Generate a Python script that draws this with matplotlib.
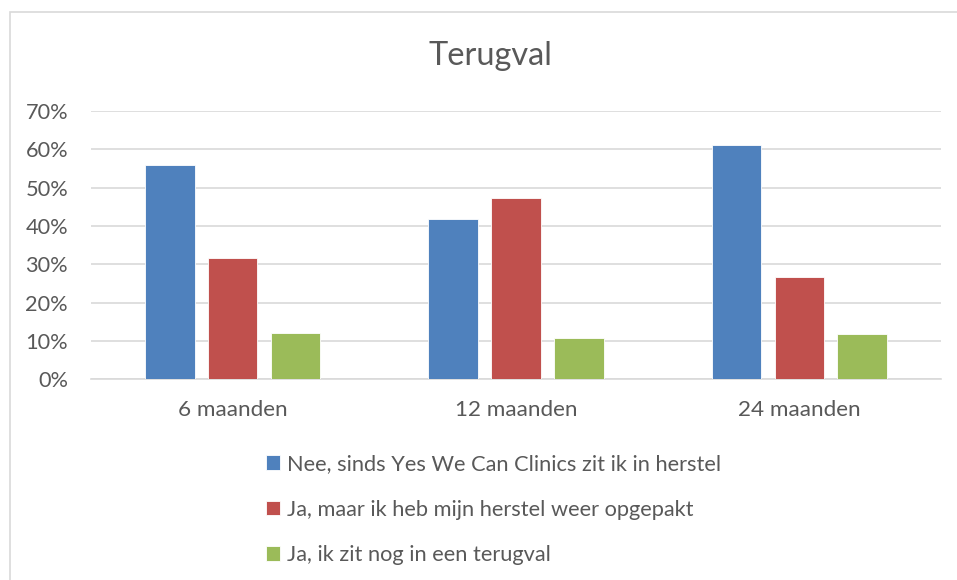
import matplotlib
matplotlib.use("Agg")
import matplotlib.pyplot as plt
from matplotlib.patches import Rectangle
import numpy as np

# data
categories = ["6 maanden", "12 maanden", "24 maanden"]
series_labels = [
    "Nee, sinds Yes We Can Clinics zit ik in herstel",
    "Ja, maar ik heb mijn herstel weer opgepakt",
    "Ja, ik zit nog in een terugval",
]
nee_herstel = [0.560, 0.417, 0.611]
ja_opgepakt = [0.316, 0.472, 0.268]
ja_terugval = [0.120, 0.109, 0.118]
colors = ["#4f81bd", "#c0504d", "#9bbb59"]
yticks = [0.0, 0.1, 0.2, 0.3, 0.4, 0.5, 0.6, 0.7]

plt.rcParams["font.family"] = ["Lato", "DejaVu Sans"]
text_color = "#595959"
grid_color = "#d9d9d9"
fs = 15.7

fig = plt.figure(figsize=(9.57, 5.8), dpi=100)
ax = fig.add_axes([91 / 957, 1 - 379.3 / 580, 850 / 957, 268.3 / 580])

x = np.arange(len(categories))
pitch = 0.222
width = 0.175
for i, (vals, lab, col) in enumerate(zip([nee_herstel, ja_opgepakt, ja_terugval], series_labels, colors)):
    ax.bar(x + (i - 1) * pitch, vals, width, color=col, label=lab,
           edgecolor="white", linewidth=0.6, zorder=3)

ax.set_xlim(-0.5, 2.5)
ax.set_ylim(0, 0.7)
ax.set_yticks(yticks)
ax.set_yticklabels([f"{int(round(t * 100))}%" for t in yticks])
ax.set_xticks(x)
ax.set_xticklabels(categories, fontsize=16.2)
ax.tick_params(axis="both", length=0, colors=text_color)
ax.tick_params(axis="y", pad=16.5, labelsize=fs)
ax.tick_params(axis="x", pad=15)
ax.grid(axis="y", color=grid_color, linewidth=1.2, zorder=0)
for side in ["top", "right", "left"]:
    ax.spines[side].set_visible(False)
ax.spines["bottom"].set_color(grid_color)
ax.spines["bottom"].set_linewidth(1.2)

# title centred on the chart area, as in the reference
fig.text(490 / 957, 1 - 56 / 580, "Terugval", fontsize=23.4, color=text_color,
         ha="center", va="center")

leg = fig.legend(loc="upper left", bbox_to_anchor=(266 / 957, 1 - 454 / 580),
                 frameon=False, fontsize=fs, labelcolor=text_color,
                 handlelength=0.65, handleheight=0.65, handletextpad=0.3,
                 labelspacing=1.17, borderaxespad=0, borderpad=0)

# chart border (display coords start at the bottom left)
fig.patches.append(Rectangle((10, -100), 1000, 580 - 12 + 100, transform=None,
                             fill=False, edgecolor=grid_color, linewidth=1.2))

fig.savefig("out.png", dpi=100, facecolor="white")
